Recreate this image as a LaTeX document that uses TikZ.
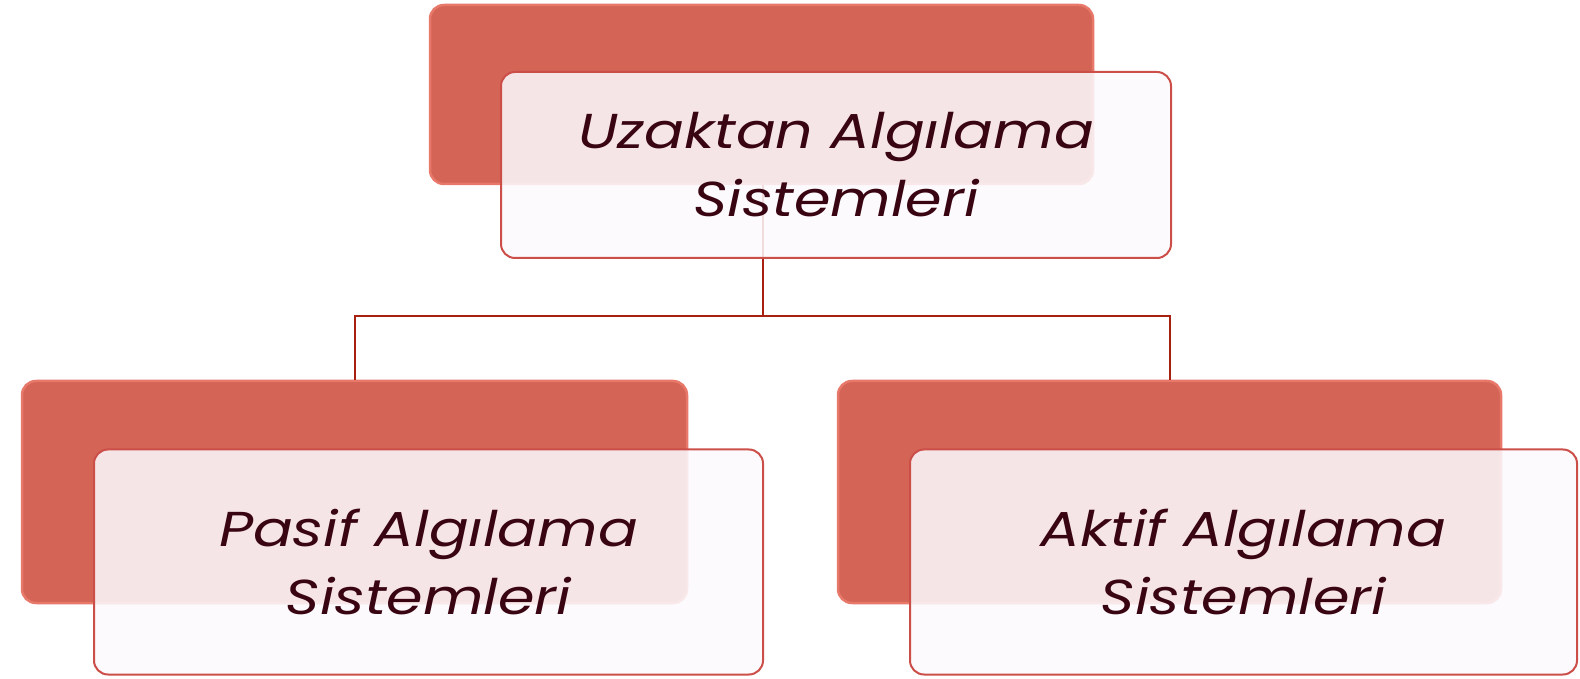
\documentclass[tikz,border=0pt]{standalone}
\usepackage{fontspec}
\setmainfont{Poppins}[FakeStretch=1.2]
\usetikzlibrary{positioning}
\definecolor{backred}{HTML}{D46455}
\definecolor{backedge}{HTML}{E7786A}
\definecolor{frontfill}{HTML}{FCF9FC}
\definecolor{frontedge}{HTML}{CC4E48}
\definecolor{linkred}{HTML}{A8200F}
\definecolor{txt}{HTML}{3A0512}
\tikzset{
  backbox/.style={draw=backedge, line width=2.5pt, fill=backred, rounded corners=14pt, inner sep=0pt},
  frontbox/.style={draw=frontedge, line width=2pt, fill=frontfill, fill opacity=0.87, text opacity=1, rounded corners=14pt, inner sep=0pt, align=center, text=txt, font=\fontsize{49}{68}\selectfont\itshape},
  link/.style={draw=linkred, line width=2pt}
}
\begin{document}
\begin{tikzpicture}[x=1pt,y=1pt]
\useasboundingbox (0,0) rectangle (1580,678);
% back boxes
\node[backbox, minimum width=663pt, minimum height=179pt] (topback) at (761.5,583.5) {};
\node[backbox, minimum width=665pt, minimum height=222pt] (leftback) at (354.5,186) {};
\node[backbox, minimum width=663pt, minimum height=222pt] (rightback) at (1169.5,186) {};
% connectors
\coordinate (fork) at (763,362);
\draw[link] (topback.south -| fork) -- (fork);
\draw[link] (fork) -| (leftback.north);
\draw[link] (fork) -| (rightback.north);
% front boxes
\node[frontbox, minimum width=670pt, minimum height=186pt] (topfront) at (836,513) {Uzaktan Algılama\\Sistemleri};
\node[frontbox, minimum width=669pt, minimum height=225pt] (leftfront) at (428.5,116) {Pasif Algılama\\Sistemleri};
\node[frontbox, minimum width=667pt, minimum height=225pt] (rightfront) at (1243.5,116) {Aktif Algılama\\Sistemleri};
\end{tikzpicture}
\end{document}
